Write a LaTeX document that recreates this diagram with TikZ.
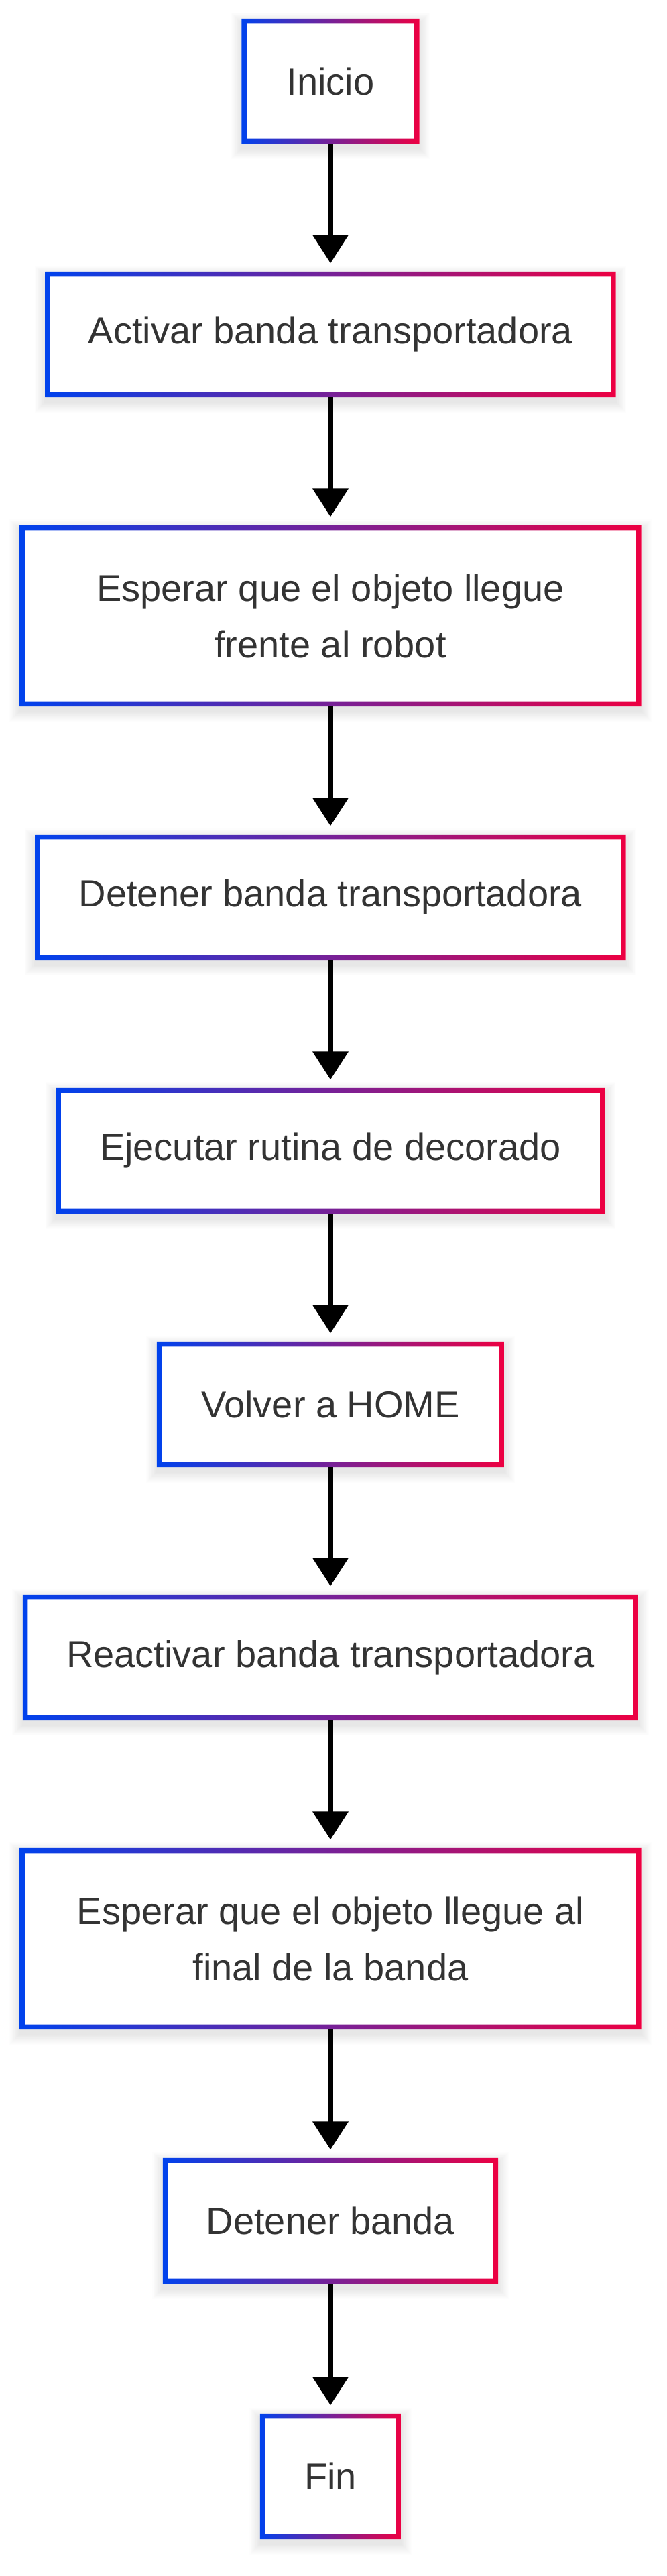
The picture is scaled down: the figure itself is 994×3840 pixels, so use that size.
\documentclass[tikz,border=0pt]{standalone}
\usepackage{fontspec}
\setmainfont{Liberation Sans}
\usetikzlibrary{arrows.meta,calc}
\definecolor{cb}{RGB}{0,66,237}
\definecolor{cr}{RGB}{237,0,66}
\definecolor{txt}{RGB}{51,51,51}
\pgfdeclarelayer{bg}
\pgfsetlayers{bg,main}
\tikzset{
  stepbox/.style={rectangle, fill=white, inner sep=0pt, align=center,
    text=txt, font=\fontsize{56}{84}\selectfont, minimum height=187pt},
  tallbox/.style={stepbox, minimum height=270pt},
  arr/.style={draw=black, line width=7.5pt,
    -{Triangle[width=52pt,length=42pt]}, shorten >=12.5pt}
}
\begin{document}
\begin{tikzpicture}[x=1pt,y=1pt]
\useasboundingbox (0,0) rectangle (994,-3840);
\node[stepbox, minimum width=265pt, minimum height=186pt] (n1) at (493,-121) {Inicio};
\node[stepbox, minimum width=851pt] (n2) at (493,-498.5) {Activar banda transportadora};
\node[tallbox, minimum width=927pt] (n3) at (493,-918) {Esperar que el objeto llegue\\frente al robot};
\node[stepbox, minimum width=881pt] (n4) at (493,-1337.5) {Detener banda transportadora};
\node[stepbox, minimum width=819pt] (n5) at (493,-1715.5) {Ejecutar rutina de decorado};
\node[stepbox, minimum width=518pt] (n6) at (493,-2093.5) {Volver a HOME};
\node[stepbox, minimum width=918pt] (n7) at (493,-2470.5) {Reactivar banda transportadora};
\node[tallbox, minimum width=927pt] (n8) at (493,-2890) {Esperar que el objeto llegue al\\final de la banda};
\node[stepbox, minimum width=500pt] (n9) at (493,-3310.5) {Detener banda};
\node[stepbox, minimum width=210pt] (n10) at (493,-3691.5) {Fin};

\begin{pgfonlayer}{bg}
\foreach \n in {n1,n2,n3,n4,n5,n6,n7,n8,n9,n10}{
  \foreach \i in {1,...,12}{
    \fill[black, opacity=0.008]
      ($(\n.north west)+(-1.3*\i,1.3*\i-7)$) rectangle ($(\n.south east)+(1.3*\i,-1.3*\i-7)$);
  }
}
\end{pgfonlayer}

\foreach \n in {n1,n2,n3,n4,n5,n6,n7,n8,n9,n10}{
  \shade[left color=cb, right color=cr, even odd rule]
    (\n.north west) rectangle (\n.south east)
    ($(\n.north west)+(7.5,-7.5)$) rectangle ($(\n.south east)+(-7.5,7.5)$);
}

\draw[arr] (n1.south) -- (n2.north);
\draw[arr] (n2.south) -- (n3.north);
\draw[arr] (n3.south) -- (n4.north);
\draw[arr] (n4.south) -- (n5.north);
\draw[arr] (n5.south) -- (n6.north);
\draw[arr] (n6.south) -- (n7.north);
\draw[arr] (n7.south) -- (n8.north);
\draw[arr] (n8.south) -- (n9.north);
\draw[arr] (n9.south) -- (n10.north);
\end{tikzpicture}
\end{document}
